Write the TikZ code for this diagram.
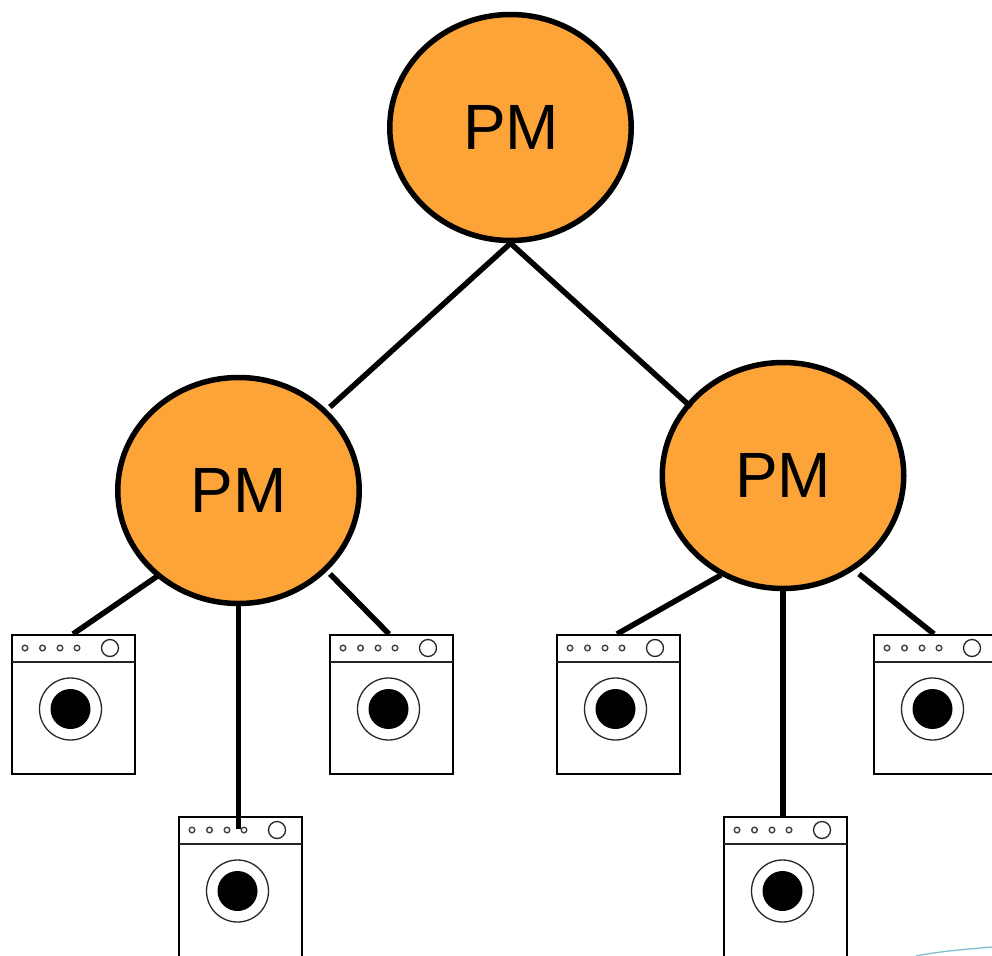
\documentclass[tikz,border=0pt]{standalone}
\usepackage{fontspec}
\setmainfont{Liberation Sans}
\usetikzlibrary{shapes.geometric}
\definecolor{pmorange}{HTML}{FDA438}
\definecolor{tealline}{HTML}{7FBFD0}
\tikzset{
  pmnode/.style={ellipse,draw=black,fill=pmorange,line width=5.5pt,minimum width=241.5pt,minimum height=226pt,inner sep=0pt,font=\fontsize{64}{64}\selectfont},
  link/.style={line width=5.5pt,draw=black},
  washerbox/.style={rectangle,draw=black,fill=white,line width=1.6pt,minimum width=123pt,inner sep=0pt,anchor=north},
  washerline/.style={line width=1.3pt,draw=black!85},
  washerknob/.style={line width=1.4pt,draw=black!75,fill=white},
  pics/washer/.style={code={
    \node[washerbox,minimum height=#1] (-box) at (0,-70.5) {};
    \draw[washerline] (-61.5,-42.5) -- (61.5,-42.5);
    \foreach \kx in {-48.5,-31,-13.5,3.5}{\draw[washerknob] (\kx,-56.5) circle (2.8pt);}
    \draw[washerline] (36.5,-56.5) circle (8.5pt);
    \draw[washerline] (-3,4.5) circle (31pt);
    \fill[black] (-3,4.5) circle (20pt);
  }}
}
\begin{document}
\begin{tikzpicture}[x=1pt,y=-1pt]
\useasboundingbox (0,0) rectangle (992,955);
\clip (0,0) rectangle (992,955);
\fill[white] (0,0) rectangle (992,955);
% washers
\pic (wa) at (73.5,704.5) {washer=139pt};
\pic (wb) at (240.5,886.5) {washer=150pt};
\pic (wc) at (391.5,704.5) {washer=139pt};
\pic (wd) at (618.5,704.5) {washer=139pt};
\pic (we) at (785.5,886.5) {washer=150pt};
\pic (wf) at (935.5,704.5) {washer=139pt};
% nodes
\node[pmnode] (root) at (510.5,127.5) {\hspace{1pt}PM};
\node[pmnode] (left) at (238.5,490.5) {PM};
\node[pmnode] (right) at (783,475.5) {PM};
% free connector ends
\coordinate (rl) at (330,407);
\coordinate (rr) at (691,407);
\coordinate (la) at (159,575);
\coordinate (lc) at (330,574);
\coordinate (ra) at (721,575);
\coordinate (rf) at (859,574);
\coordinate (wbend) at (238.5,829);
\coordinate (weend) at (783,817);
\coordinate (wae) at (73,634);
\coordinate (wce) at (389,634);
\coordinate (wde) at (617,634);
\coordinate (wfe) at (934,634);
% connectors
\draw[link] (root.south) -- (rl);
\draw[link] (root.south) -- (rr);
\draw[link] (la) -- (wae);
\draw[link] (left.south) -- (wbend);
\draw[link] (lc) -- (wce);
\draw[link] (ra) -- (wde);
\draw[link] (right.south) -- (weend);
\draw[link] (rf) -- (wfe);
% stray curve at the corner
\draw[tealline,line width=1.3pt] (916,956) .. controls (940,951) and (970,949) .. (992,947);
\end{tikzpicture}
\end{document}
